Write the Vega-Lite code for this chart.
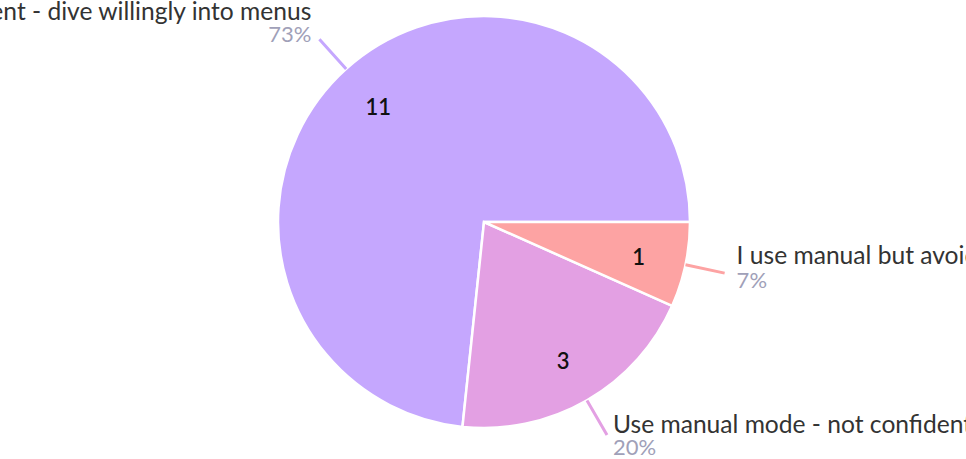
{
  "$schema": "https://vega.github.io/schema/vega-lite/v6.json",
  "width": 964,
  "height": 444,
  "autosize": {"type": "none"},
  "padding": {"left": 2, "top": 0, "right": 0, "bottom": 15},
  "background": "white",
  "config": {"view": {"stroke": null}, "font": "Lato"},
  "data": {
    "values": [
      {"label": "I use manual mode - confident - dive willingly into menus", "count": 11, "pct": "73%"},
      {"label": "Use manual mode - not confident", "count": 3, "pct": "20%"},
      {"label": "I use manual but avoid menus", "count": 1, "pct": "7%"}
    ]
  },
  "transform": [
    {"stack": "count", "groupby": [], "sort": [{"field": "count", "order": "ascending"}], "as": ["v0", "v1"]}
  ],
  "layer": [
    {
      "mark": {"type": "arc", "outerRadius": 206, "stroke": "white", "strokeWidth": 2.5},
      "encoding": {
        "theta": {"field": "v0", "type": "quantitative", "stack": null, "scale": {"domain": [0, 15], "range": [1.5707963, 7.8539816]}},
        "theta2": {"field": "v1"},
        "color": {
          "field": "label", "type": "nominal", "legend": null,
          "scale": {
            "domain": ["I use manual mode - confident - dive willingly into menus", "Use manual mode - not confident", "I use manual but avoid menus"],
            "range": ["#c5a7fe", "#e3a0e3", "#fda3a3"]
          }
        }
      }
    },
    {
      "transform": [
        {"fold": ["v0", "v1"], "as": ["k", "t"]},
        {"aggregate": [{"op": "mean", "field": "t", "as": "mid"}], "groupby": ["label", "count", "pct"]}
      ],
      "layer": [
        {
          "mark": {"type": "text", "radius": 158, "dy": 3, "fontSize": 22, "fontWeight": 600, "color": "#111111"},
          "encoding": {
            "theta": {"field": "mid", "type": "quantitative", "stack": null},
            "text": {"field": "count", "type": "quantitative"}
          }
        },
        {
          "mark": {"type": "arc", "radius": 206, "radius2": 246, "filled": false, "strokeWidth": 3},
          "encoding": {
            "theta": {"field": "mid", "type": "quantitative", "stack": null},
            "theta2": {"field": "mid"},
            "color": {"field": "label", "type": "nominal", "legend": null}
          }
        },
        {
          "transform": [{"filter": {"field": "count", "equal": 11}}],
          "layer": [
            {
              "mark": {"type": "text", "radius": 246, "align": "right", "baseline": "alphabetic", "dx": -8, "dy": -19, "fontSize": 24.6, "color": "#333333"},
              "encoding": {"theta": {"field": "mid", "type": "quantitative", "stack": null}, "text": {"field": "label"}}
            },
            {
              "mark": {"type": "text", "radius": 246, "align": "right", "baseline": "alphabetic", "dx": -8, "dy": 3, "fontSize": 22, "color": "#a0a0b8"},
              "encoding": {"theta": {"field": "mid", "type": "quantitative", "stack": null}, "text": {"field": "pct"}}
            }
          ]
        },
        {
          "transform": [{"filter": {"field": "count", "equal": 1}}],
          "layer": [
            {
              "mark": {"type": "text", "radius": 246, "align": "left", "baseline": "alphabetic", "dx": 12, "dy": -9, "fontSize": 24.6, "color": "#333333"},
              "encoding": {"theta": {"field": "mid", "type": "quantitative", "stack": null}, "text": {"field": "label"}}
            },
            {
              "mark": {"type": "text", "radius": 246, "align": "left", "baseline": "alphabetic", "dx": 12, "dy": 15, "fontSize": 22, "color": "#a0a0b8"},
              "encoding": {"theta": {"field": "mid", "type": "quantitative", "stack": null}, "text": {"field": "pct"}}
            }
          ]
        },
        {
          "transform": [{"filter": {"field": "count", "equal": 3}}],
          "layer": [
            {
              "mark": {"type": "text", "radius": 246, "align": "left", "baseline": "alphabetic", "dx": 6, "dy": -2, "fontSize": 24.6, "color": "#333333"},
              "encoding": {"theta": {"field": "mid", "type": "quantitative", "stack": null}, "text": {"field": "label"}}
            },
            {
              "mark": {"type": "text", "radius": 246, "align": "left", "baseline": "alphabetic", "dx": 6, "dy": 20, "fontSize": 22, "color": "#a0a0b8"},
              "encoding": {"theta": {"field": "mid", "type": "quantitative", "stack": null}, "text": {"field": "pct"}}
            }
          ]
        }
      ]
    }
  ]
}
